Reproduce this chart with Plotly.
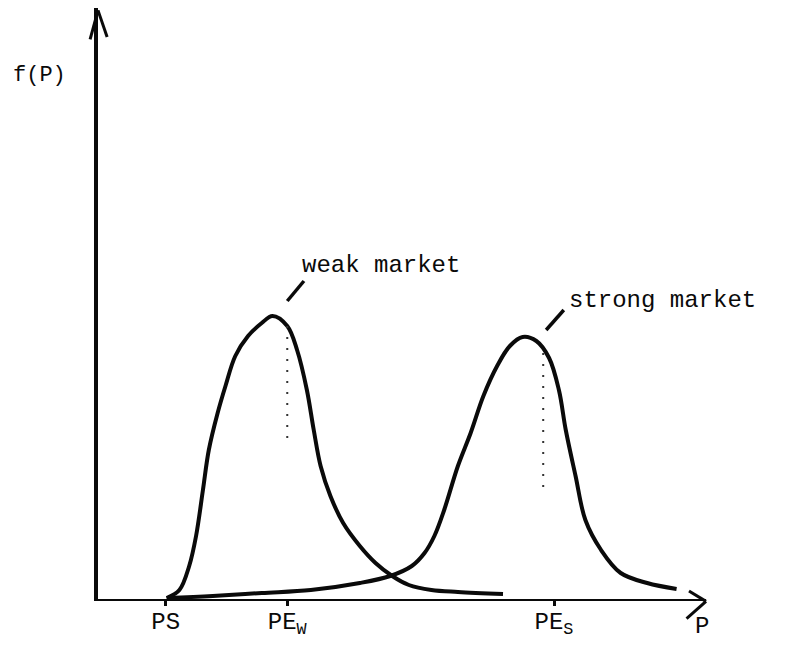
import plotly.graph_objects as go

# ---- data (P units along the price axis, f(P) density units) ----
weak_P = [70, 83, 93, 100, 107, 113, 122, 130, 140, 153, 167, 178, 193, 203, 213, 220,
          227, 237, 250, 267, 283, 300, 317, 340, 367, 413]
weak_f = [1, 9, 33, 63, 109, 149, 186, 213, 243, 263, 276, 283, 273, 249, 209, 169,
          133, 103, 76, 53, 36, 23, 14, 9, 7, 5]

strong_P = [70, 117, 167, 217, 267, 298, 320, 333, 343, 353, 367, 380, 393, 407, 420,
            433, 447, 460, 470, 477, 487, 497, 513, 533, 560, 590]
strong_f = [1, 3, 6, 9, 16, 23, 33, 46, 63, 89, 133, 166, 203, 233, 253, 262, 258,
            241, 209, 169, 123, 79, 49, 26, 16, 10]

tick_P = [69, 193, 465]
tick_labels = ["PS", "PE<sub>W</sub>", "PE<sub>S</sub>"]

pe_w_line_f = [273, 156]
pe_s_line_P = 454
pe_s_line_f = [246, 111]

weak_leader_P = [193, 210]
weak_leader_f = [298, 318]
strong_leader_P = [457, 475]
strong_leader_f = [269, 289]

INK = "#0a0a0a"
MONO = "Liberation Mono, Courier New, monospace"

fig = go.Figure()

curve_line = dict(color=INK, width=4, shape="spline", smoothing=1.0)
fig.add_trace(go.Scatter(x=weak_P, y=weak_f, mode="lines", line=curve_line,
                         hoverinfo="skip", showlegend=False))
fig.add_trace(go.Scatter(x=strong_P, y=strong_f, mode="lines", line=curve_line,
                         hoverinfo="skip", showlegend=False))

# dotted drop lines
dot_line = dict(color="#333", width=2, dash="2px,9px")
fig.add_trace(go.Scatter(x=[tick_P[1], tick_P[1]], y=pe_w_line_f, mode="lines",
                         line=dot_line, hoverinfo="skip", showlegend=False))
fig.add_trace(go.Scatter(x=[pe_s_line_P, pe_s_line_P], y=pe_s_line_f, mode="lines",
                         line=dot_line, hoverinfo="skip", showlegend=False))

# leader strokes
fig.add_trace(go.Scatter(x=weak_leader_P, y=weak_leader_f, mode="lines",
                         line=dict(color=INK, width=3.5), hoverinfo="skip", showlegend=False))
fig.add_trace(go.Scatter(x=strong_leader_P, y=strong_leader_f, mode="lines",
                         line=dict(color=INK, width=3.5), hoverinfo="skip", showlegend=False))

fig.add_annotation(x=206, y=334, text="weak market", showarrow=False,
                   xanchor="left", yanchor="middle",
                   font=dict(family=MONO, size=24, color=INK))
fig.add_annotation(x=478, y=299, text="strong market", showarrow=False,
                   xanchor="left", yanchor="middle",
                   font=dict(family=MONO, size=24, color=INK))

fig.add_annotation(xref="paper", yref="paper", x=-0.097, y=0.885, text="f(P)",
                   showarrow=False, xanchor="center", yanchor="middle",
                   font=dict(family=MONO, size=22, color=INK))
fig.add_annotation(x=616, yref="paper", y=-0.046, text="P", showarrow=False,
                   xanchor="center", yanchor="middle",
                   font=dict(family=MONO, size=24, color=INK))

# open arrowheads (paper coordinates)
arrow = dict(type="line", xref="paper", yref="paper", line=dict(color=INK, width=3))
fig.add_shape(**arrow, x0=1.0, y0=-0.004, x1=0.972, y1=0.0135)
fig.add_shape(**arrow, x0=1.0, y0=-0.004, x1=0.968, y1=-0.033)
fig.add_shape(**arrow, x0=0.0, y0=0.996, x1=-0.013, y1=0.947)
fig.add_shape(**arrow, x0=0.0, y0=0.996, x1=0.015, y1=0.951)

fig.update_layout(
    width=791, height=646,
    margin=dict(l=90, r=93, t=0, b=55),
    paper_bgcolor="white", plot_bgcolor="white",
    xaxis=dict(range=[0, 620], showgrid=False, zeroline=False,
               showline=True, linecolor=INK, linewidth=2,
               tickvals=tick_P, ticktext=tick_labels, ticks="outside",
               ticklen=5, tickwidth=3, tickcolor=INK,
               tickfont=dict(family=MONO, size=24, color=INK),
               ticklabelstandoff=-6, fixedrange=True),
    yaxis=dict(range=[0, 591], showgrid=False, zeroline=False,
               showline=True, linecolor=INK, linewidth=3.5,
               showticklabels=False, ticks="", fixedrange=True),
)

fig.write_html("out.html")
